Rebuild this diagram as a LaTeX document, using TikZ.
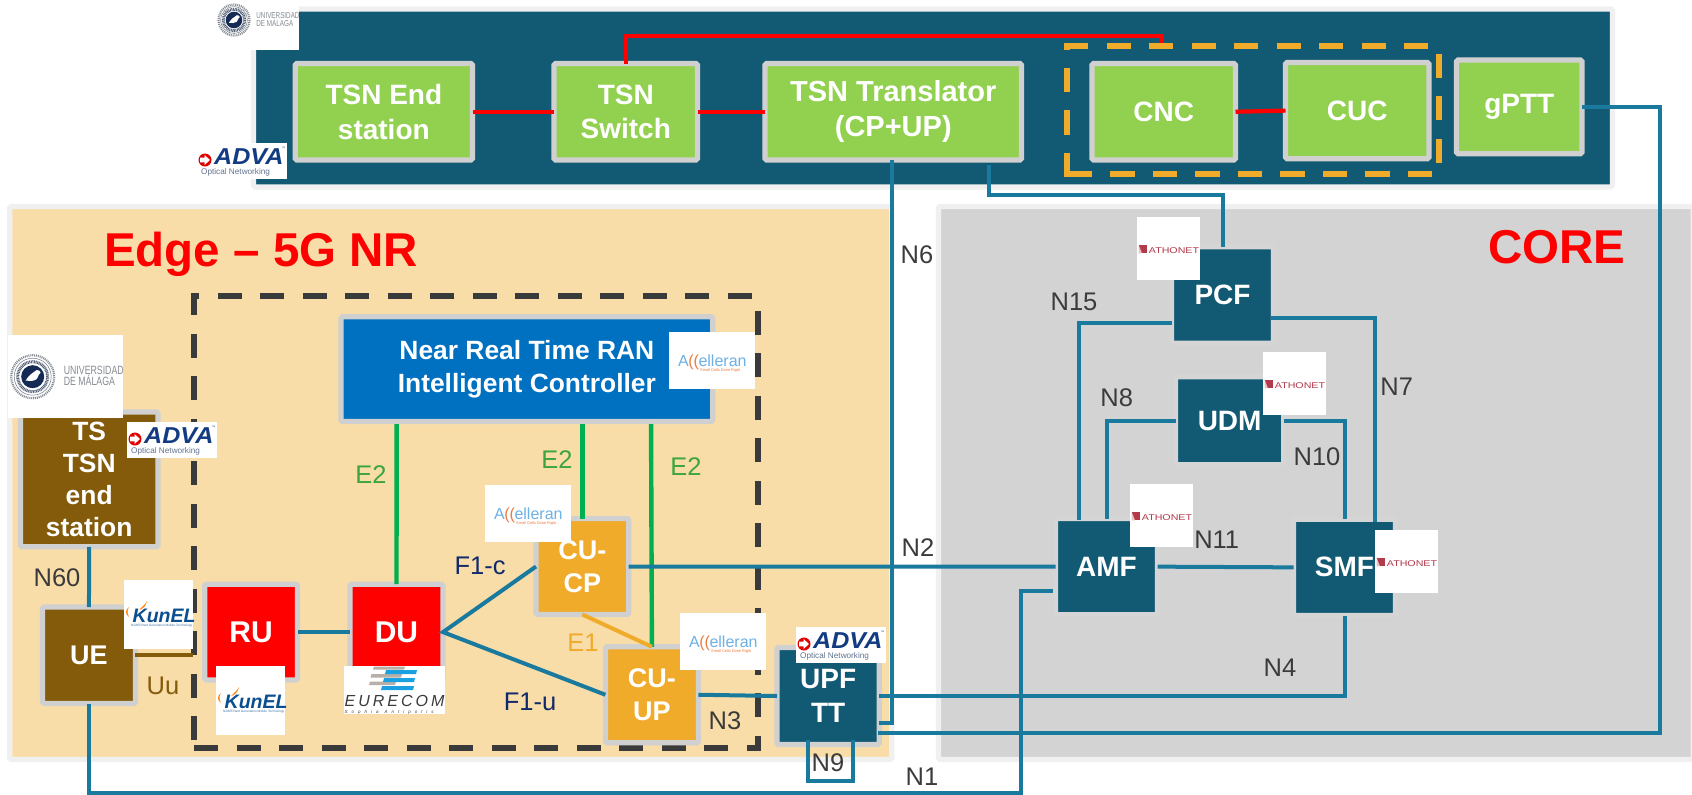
\documentclass[tikz,border=0pt]{standalone}
\usepackage{fontspec}
\setmainfont{Liberation Sans}
\definecolor{tealbox}{HTML}{125A73}
\definecolor{linkblue}{HTML}{1A7A9E}
\definecolor{tsngreen}{HTML}{92D150}
\definecolor{edgebg}{HTML}{F8DDA8}
\definecolor{corebg}{HTML}{D3D3D3}
\definecolor{panelrim}{HTML}{F0F0F0}
\definecolor{boxrim}{HTML}{D0D0D0}
\definecolor{brownbox}{HTML}{835B0A}
\definecolor{ricblue}{HTML}{0070C0}
\definecolor{orangebox}{HTML}{F0AB2B}
\definecolor{dashdark}{HTML}{3A3A3A}
\definecolor{labelgrey}{HTML}{3B3B3B}
\definecolor{e2green}{HTML}{3DA53D}
\definecolor{linegreen}{HTML}{00B050}
\definecolor{navylabel}{HTML}{10296A}
\definecolor{advanavy}{HTML}{123B82}
\definecolor{kunblue}{HTML}{0B4F8F}
\definecolor{accblue}{HTML}{6DB1E6}
\definecolor{accorange}{HTML}{EE7A3C}
\definecolor{athred}{HTML}{B23A4A}
\definecolor{umagrey}{HTML}{858B93}
\definecolor{umanavy}{HTML}{152A55}
\definecolor{eurblue}{HTML}{1BA1E2}
\definecolor{eurgrey}{HTML}{B8B0A8}
\newcommand{\fsz}[2]{\fontsize{#1}{#2}\selectfont}
\newcommand{\bx}[7]{%
  \pgfmathsetmacro{\bxcx}{(#2+#4)/2}%
  \pgfmathsetmacro{\bxcy}{(#3+#5)/2}%
  \pgfmathsetmacro{\bxw}{#4-#2}%
  \pgfmathsetmacro{\bxh}{#5-#3}%
  \node[#6, minimum width=\bxw pt, minimum height=\bxh pt] (#1) at (\bxcx,\bxcy) {#7};}
\tikzset{
  panelbox/.style={draw=panelrim, line width=5.2pt, rounded corners=1.5pt, inner sep=0, outer sep=0},
  boxst/.style={draw=boxrim, line width=5.2pt, rounded corners=1.5pt, inner sep=0, outer sep=0, align=center, text=white, font=\bfseries\fsz{28}{34.5}},
  greenbox/.style={boxst, fill=tsngreen},
  redbox/.style={boxst, fill=red, font=\bfseries\fsz{30}{34}},
  brownst/.style={boxst, fill=brownbox},
  orangest/.style={boxst, fill=orangebox, font=\bfseries\fsz{27}{32.5}},
  corebox/.style={boxst, fill=tealbox, draw=corebg!95!white},
  blink/.style={draw=linkblue, line width=4pt, line join=miter},
  rlink/.style={draw=red, line width=4.2pt, line join=miter},
  glink/.style={draw=linegreen, line width=4.4pt},
  dashgroup/.style={line width=6pt, line join=miter, dash pattern=on 24.3pt off 18.2pt},
  lbl/.style={inner sep=0, font=\fsz{25.5}{28}, text=labelgrey},
  title/.style={inner sep=0, anchor=base west, text=red, font=\bfseries\fsz{47.5}{50}},
  logotext/.style={inner sep=0, anchor=base west},
  adva/.pic={
    \fill[white] (0,0) rectangle (90,36);
    \fill[red!88!black] (8,17) circle (6.5);
    \fill[white] (3,14.7) -- (7.5,14.7) -- (7.5,12) -- (13,17) -- (7.5,22) -- (7.5,19.3) -- (3,19.3) -- cycle;
    \node[logotext, text=advanavy, xscale=1.09, font=\bfseries\itshape\fsz{23}{24}] (-a) at (17,21) {ADVA};
    \node[inner sep=0, text=advanavy, font=\fsz{3.5}{4}] (-tm) at (86.5,5) {™};
    \node[logotext, text=umagrey!70!advanavy, font=\fsz{8.2}{9}] (-o) at (4,31) {Optical Networking};
  },
  kunel/.pic={
    \fill[white] (0,0) rectangle (69,69);
    \fill[orange] (5,27) .. controls (1,30) and (1,34) .. (5,37) .. controls (3,33) and (3,30) .. (5,27) -- cycle;
    \fill[orange] (23,21) .. controls (21,25) and (18,27) .. (15,30) .. controls (19,29) and (22,26) .. (23,21) -- cycle;
    \node[logotext, text=kunblue, font=\bfseries\itshape\fsz{19.5}{20}] (-k) at (8.5,42) {KunEL};
    \node[logotext, text=kunblue!80!white, font=\fsz{3.2}{4}] (-s) at (7,46.5) {NGMT/Next Generation Mobile Technology};
  },
  accel/.pic={
    \fill[white] (0,0) rectangle (86,57);
    \node[logotext, font=\fsz{16}{17}] (-a) at (9,34) {\textcolor{accblue}{A}\kern-0.5pt\textcolor{accorange}{((}\kern-0.5pt\textcolor{accblue}{elleran}};
    \node[logotext, text=accorange, font=\fsz{3.9}{4}] (-s) at (31,39) {Small Cells Done Right};
  },
  athon/.pic={
    \fill[white] (0,0) rectangle (62.5,63);
    \fill[athred] (1.7,28) rectangle (10.3,36.3);
    \fill[white!70!athred] (1.7,28) -- (5,36.3) -- (1.7,36.3) -- cycle;
    \node[inner sep=0, anchor=base, text=athred, xscale=1.27, font=\fsz{8.4}{9}] (-n) at (37,36.3) {ATHONET};
  },
  uma/.pic={
    \fill[white] (0,0) rectangle (115.5,83);
    \draw[umagrey, line width=2.2pt, dash pattern=on 1pt off 0.9pt] (25,41.7) circle (21.5);
    \draw[umagrey!80!umanavy, line width=0.5pt] (25,41.7) circle (18.5);
    \draw[umagrey!60!umanavy, line width=3pt, dash pattern=on 0.9pt off 0.7pt] (25,41.7) circle (15);
    \fill[umanavy] (25,41.7) circle (11.5);
    \fill[white] (18,45.5) .. controls (21,40) and (25,38) .. (29,35) .. controls (31,35) and (32.5,36) .. (33,37.5) .. controls (31,38) and (31,41) .. (29,44) .. controls (26,46.5) and (22,46) .. (18,45.5) -- cycle;
    \node[inner sep=0, anchor=base west, text=umagrey, xscale=0.73, font=\fsz{12}{13}] (-a) at (56,39) {UNIVERSIDAD};
    \node[inner sep=0, anchor=base west, text=umagrey, xscale=0.73, font=\fsz{12}{13}] (-b) at (56,50) {DE MÁLAGA};
  },
  eure/.pic={
    \fill[white] (0,0) rectangle (101,48);
    \fill[eurgrey] (30,0.5) -- (61,0.5) -- (60,3.5) -- (29,3.5) -- cycle;
    \fill[eurgrey] (27.5,8) -- (58,8) -- (57,11.5) -- (26.5,11.5) -- cycle;
    \fill[eurgrey] (26,15.5) -- (52,15.5) -- (51,19) -- (25,19) -- cycle;
    \fill[eurblue] (42,4) -- (73,4) -- (72,8) -- (41,8) -- cycle;
    \fill[eurblue] (40,12) -- (71,12) -- (70,16) -- (39,16) -- cycle;
    \fill[eurblue] (38,20) -- (70,20) -- (69,24) -- (37,24) -- cycle;
    \node[logotext, text=labelgrey, font=\itshape\fsz{16}{17}] (-e) at (0.5,40.5) {E\kern3pt U\kern3pt R\kern3pt E\kern3pt C\kern3pt O\kern3pt M};
    \node[logotext, text=labelgrey, font=\itshape\fsz{4.5}{5}] (-s) at (0.5,47.5) {S\kern4pt o\kern4pt p\kern4pt h\kern4pt i\kern4pt a\kern6pt A\kern4pt n\kern4pt t\kern4pt i\kern4pt p\kern4pt o\kern4pt l\kern4pt i\kern4pt s};
  }
}
\begin{document}
\begin{tikzpicture}[x=1pt,y=-1pt]
\useasboundingbox (0,0) rectangle (1692,795);
\fill[white] (0,0) rectangle (1692,795);
% panels
\bx{toppanel}{253.5}{9}{1612.5}{187}{panelbox, fill=tealbox}{}
\bx{edgepanel}{9.7}{206.5}{891.7}{759.5}{panelbox, fill=edgebg}{}
\bx{corepanel}{938.4}{206.5}{1693.2}{759.5}{panelbox, fill=corebg}{}
% dashed groups
\draw[dashdark, dashgroup] (194,748.3) -- (758,748.3) -- (758,309);
\draw[dashdark, dashgroup] (751.8,296.3) -- (194,296.3) -- (194,741.7);
\draw[orangebox, dashgroup, dash phase=3pt] (1067,46) -- (1439,46) -- (1439,174) -- (1067,174);
\draw[orangebox, dashgroup] (1067,177) -- (1067,43);
% top row
\bx{tsnend}{295.2}{63.5}{472.5}{160}{greenbox}{TSN End\\station}
\bx{tsnsw}{554}{63.5}{697.5}{160}{greenbox}{TSN\\Switch}
\bx{tsntr}{765}{63.5}{1021.5}{160}{greenbox, font=\bfseries\fsz{29}{34.5}}{TSN Translator\\(CP+UP)}
\bx{cnc}{1092}{63.5}{1235.5}{160}{greenbox}{CNC}
\bx{cuc}{1285.5}{62.5}{1429}{158.7}{greenbox}{CUC}
\bx{gptt}{1456.5}{60}{1582}{153.7}{greenbox}{gPTT}
% edge boxes
\bx{ric}{341}{316.7}{712.7}{421.5}{boxst, fill=ricblue, font=\bfseries\fsz{26.4}{33}}{Near Real Time RAN\\Intelligent Controller}
\bx{ts}{20.4}{412}{158}{546.8}{brownst, font=\bfseries\fsz{26.4}{32.3}}{TS\\TSN\\end\\station}
\bx{ue}{42.5}{607}{135.4}{703.5}{brownst, font=\bfseries\fsz{27}{30}}{UE}
\bx{ru}{204.7}{584.2}{297.5}{680}{redbox}{RU}
\bx{du}{350}{584.2}{443}{680}{redbox}{DU}
\bx{cucp}{536}{518.5}{628.7}{614.5}{orangest}{CU-\\CP}
\bx{cuup}{605.4}{646.8}{698.4}{742.7}{orangest}{CU-\\UP}
\bx{upf}{777}{647.5}{879.3}{744.5}{boxst, fill=tealbox}{UPF\\TT}
% core boxes
\bx{pcf}{1171.5}{246.8}{1273.5}{343.2}{corebox}{PCF}
\bx{udm}{1175.5}{376.8}{1283.8}{464.8}{corebox}{UDM}
\bx{amf}{1055.5}{518.5}{1157.5}{614.8}{corebox}{AMF}
\bx{smf}{1293.5}{519.2}{1395.5}{615.5}{corebox}{SMF}
% free ends
\coordinate (uuend) at (193,655.25);
\coordinate (nonecorner) at (1021.3,792.9);
% green and orange links
\draw[glink] (du.north) -- ([shift={(-130.2,2.5)}]ric.south);
\draw[glink] (cucp.north) -- ([shift={(55.5,2.5)}]ric.south);
\draw[glink] (cuup.north) -- ([shift={(124.2,2.5)}]ric.south);
\draw[orangebox, line width=4pt] (cucp.south) -- (cuup.north);
% red links
\draw[rlink] (tsnend.east) -- (tsnsw.west);
\draw[rlink] (tsnsw.east) -- (tsntr.west);
\draw[rlink] (cnc.east) -- (cuc.west);
\draw[rlink] (tsnsw.north) -- ++(0,-27.8) -| ([shift={(-1.5,-20.5)}]cnc.north);
% blue links
\draw[blink] (ts.south) -- (ue.north);
\draw[draw=brownbox, line width=4pt] (ue.east) -- (uuend);
\draw[blink] (ru.east) -- (du.west);
\draw[blink] (cucp.west) -- (du.east) -- (cuup.west);
\draw[blink] (cucp.east) -- (amf.west);
\draw[blink] (cuup.east) -- (upf.west);
\draw[blink] (upf.east) -| (smf.south);
\draw[blink] ([shift={(-1.25,0)}]tsntr.south) |- ([shift={(0,27.3)}]upf.east);
\draw[blink] (gptt.east) -- ++(78,0) |- ([shift={(-1.3,37.3)}]upf.east);
\draw[blink] ([shift={(95.75,5)}]tsntr.south) -- ++(0,30) -| (pcf.north);
\draw[blink] ([shift={(0,27.7)}]pcf.west) -| ([shift={(-28,1.5)}]amf.north);
\draw[blink] (udm.west) -| (amf.north);
\draw[blink] ([shift={(-2.5,23.3)}]pcf.east) -| ([shift={(30.5,2.5)}]smf.north);
\draw[blink] (udm.east) -| (smf.north);
\draw[blink] (amf.east) -- (smf.west);
\draw[blink] (ue.south) |- (nonecorner) |- ([shift={(-2.5,24.4)}]amf.west);
\draw[blink] ([shift={(-20.45,-4.5)}]upf.south) -- ++(0,40.7) -| ([shift={(25.15,-4.5)}]upf.south);
% logos
\begin{scope}
\clip (0,0) rectangle (1692,795);
\pic[scale=0.72, transform shape] (umatop) at (216,-10) {uma};
\end{scope}
\pic (advatop) at (197,143) {adva};
\pic (umaleft) at (7.7,335) {uma};
\pic (advaleft) at (127,422) {adva};
\pic (kunue) at (124,580) {kunel};
\pic (kunru) at (216,666) {kunel};
\pic (eurdu) at (344,666) {eure};
\pic (accric) at (669,332) {accel};
\pic (acccp) at (485,485) {accel};
\pic (accup) at (680,613) {accel};
\pic (advaupf) at (796,627) {adva};
\pic (athpcf) at (1137,217) {athon};
\pic (athudm) at (1263,352) {athon};
\pic (athamf) at (1130,484) {athon};
\pic (athsmf) at (1375,530) {athon};
% titles
\node[title] (edgetitle) at (104,266) {Edge – 5G NR};
\node[title] (coretitle) at (1488,263.5) {CORE};
% labels
\node[lbl] (ln60) at (57,578) {N60};
\node[lbl, text=brownbox] (luu) at (163,685.7) {Uu};
\node[lbl, text=e2green] (le2a) at (371,474.7) {E2};
\node[lbl, text=e2green] (le2b) at (557,460) {E2};
\node[lbl, text=e2green] (le2c) at (686,466.7) {E2};
\node[lbl, text=navylabel] (lf1c) at (480,565.7) {F1-c};
\node[lbl, text=navylabel] (lf1u) at (530,702) {F1-u};
\node[lbl, text=orangebox] (le1) at (583,643) {E1};
\node[lbl] (ln3) at (725,720.7) {N3};
\node[lbl] (ln9) at (828,762.7) {N9};
\node[lbl] (ln1) at (922,776.7) {N1};
\node[lbl] (ln6) at (917,254.7) {N6};
\node[lbl] (ln2) at (918,548) {N2};
\node[lbl] (ln15) at (1074,301.7) {N15};
\node[lbl] (ln7) at (1396.7,387) {N7};
\node[lbl] (ln8) at (1116.7,397.3) {N8};
\node[lbl] (ln10) at (1317,456.7) {N10};
\node[lbl] (ln11) at (1216.7,539.3) {N11};
\node[lbl] (ln4) at (1280,667.3) {N4};
\end{tikzpicture}
\end{document}
